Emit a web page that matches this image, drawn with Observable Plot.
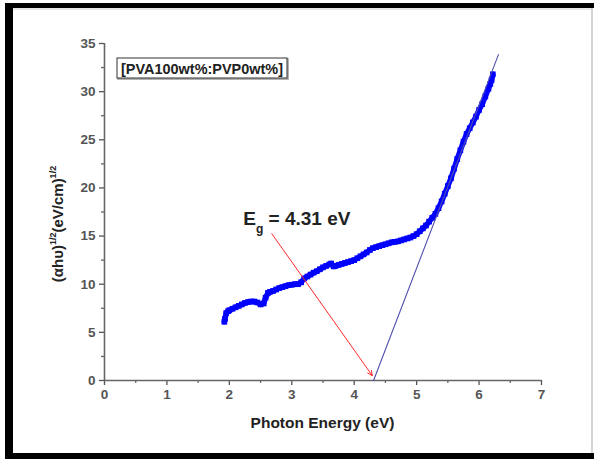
<!DOCTYPE html>
<html>
<head>
<meta charset="utf-8">
<script src="https://cdn.jsdelivr.net/npm/d3@7"></script>
<script src="https://cdn.jsdelivr.net/npm/@observablehq/plot@0.6"></script>
<style>
  html, body { margin: 0; padding: 0; background: #fff; }
  svg text { font-family: "Liberation Sans", Arial, sans-serif; }
</style>
</head>
<body>
<div id="chart"></div>
<script>
// Photon energy (eV)
const energy = [
  1.92, 1.93, 1.95, 1.98, 2.00, 2.05, 2.10, 2.15, 2.20, 2.25, 2.30, 2.35, 2.40, 2.45, 2.50, 2.55,
  2.58, 2.62, 2.65, 2.70, 2.75, 2.80, 2.85, 2.90, 2.95, 3.00, 3.05, 3.10, 3.15, 3.20, 3.25, 3.30,
  3.35, 3.40, 3.45, 3.50, 3.55, 3.60, 3.63, 3.67, 3.70, 3.75, 3.80, 3.85, 3.90, 3.95, 4.00, 4.05,
  4.10, 4.15, 4.20, 4.25, 4.30, 4.35, 4.40, 4.45, 4.50, 4.55, 4.60, 4.65, 4.70, 4.75, 4.80, 4.85,
  4.90, 4.95, 5.00, 5.05, 5.10, 5.15, 5.20, 5.25, 5.30, 5.35, 5.40, 5.45, 5.50, 5.55, 5.60, 5.65,
  5.70, 5.75, 5.80, 5.85, 5.90, 5.95, 6.00, 6.05, 6.10, 6.15, 6.18, 6.20, 6.22
];
// (alpha h nu)^1/2 (eV/cm)^1/2
const ahv = [
  6.1, 6.4, 7.0, 7.2, 7.3, 7.45, 7.6, 7.75, 7.9, 8.05, 8.15, 8.2, 8.2, 8.1, 7.9, 8.0,
  8.6, 9.1, 9.2, 9.3, 9.45, 9.6, 9.7, 9.8, 9.9, 9.95, 10.0, 10.0, 10.2, 10.6, 10.8, 11.0,
  11.2, 11.35, 11.55, 11.75, 11.9, 12.05, 12.15, 11.85, 11.9, 12.0, 12.1, 12.2, 12.3, 12.4, 12.5, 12.7,
  12.9, 13.1, 13.3, 13.55, 13.75, 13.85, 13.95, 14.05, 14.15, 14.25, 14.35, 14.4, 14.45, 14.55, 14.65, 14.75,
  14.85, 15.0, 15.2, 15.5, 15.8, 16.1, 16.5, 16.9, 17.3, 17.9, 18.6, 19.4, 20.2, 21.0, 22.0, 23.0,
  23.9, 24.8, 25.6, 26.2, 26.8, 27.4, 28.1, 28.7, 29.5, 30.3, 30.8, 31.2, 31.8
];
// Linear fit (Tauc extrapolation)
const fitX = [4.31, 6.31];
const fitY = [0, 33.85];
// Annotation arrow (data units)
const arrowX1 = 2.68, arrowY1 = 15.25, arrowX2 = 4.29, arrowY2 = 0.5;
const gapLabel = "4.31 eV";
const legendText = "[PVA100wt%:PVP0wt%]";
const xTicks = [0, 1, 2, 3, 4, 5, 6, 7];
const xMinor = [0.5, 1.5, 2.5, 3.5, 4.5, 5.5, 6.5];
const yTicks = [0, 5, 10, 15, 20, 25, 30, 35];
const yMinor = [2.5, 7.5, 12.5, 17.5, 22.5, 27.5, 32.5];

const pts = energy.map((e, i) => ({x: e, y: ahv[i]}));
const fit = fitX.map((x, i) => ({x, y: fitY[i]}));

const plot = Plot.plot({
  width: 594, height: 462,
  marginLeft: 104, marginRight: 53, marginTop: 43, marginBottom: 82,
  x: {domain: [0, 7]},
  y: {domain: [0, 35]},
  style: {background: "white", fontFamily: "Liberation Sans, Arial, sans-serif"},
  marks: [
    Plot.axisX(xTicks, {tickSize: 5, tickPadding: 4, fontSize: 13.5, fontWeight: "bold", color: "#555", strokeWidth: 1.3, label: null}),
    Plot.axisX(xMinor, {tickSize: 3, tickFormat: () => "", color: "#666", strokeWidth: 1.3, label: null}),
    Plot.axisY(yTicks, {tickSize: 5, tickPadding: 4, fontSize: 13.5, fontWeight: "bold", color: "#555", strokeWidth: 1.3, label: null}),
    Plot.axisY(yMinor, {tickSize: 3, tickFormat: () => "", color: "#666", strokeWidth: 1.3, label: null}),
    Plot.ruleX([0], {stroke: "#666", strokeWidth: 1.6}),
    Plot.ruleY([0], {stroke: "#666", strokeWidth: 1.6}),
    Plot.line(pts, {x: "x", y: "y", stroke: "#0a0aff", strokeWidth: 5.5}),
    Plot.dot(pts, {x: "x", y: "y", symbol: "square", r: 3.2, fill: "#0000ff", stroke: "none"}),
    Plot.line(fit, {x: "x", y: "y", stroke: "#4f4fb0", strokeWidth: 1.1}),
    Plot.arrow([{}], {x1: () => arrowX1, y1: () => arrowY1, x2: () => arrowX2, y2: () => arrowY2,
      stroke: "#ff2a2a", strokeWidth: 1, headLength: 8, headAngle: 50})
  ]
});

const svg = d3.select(plot);
const sx = plot.scale("x"), sy = plot.scale("y");

// Outer frame
svg.append("rect").attr("x", 5).attr("y", 3).attr("width", 589).attr("height", 5).attr("fill", "#000");
svg.append("rect").attr("x", 5).attr("y", 3).attr("width", 8).attr("height", 456).attr("fill", "#000");
svg.append("rect").attr("x", 5).attr("y", 453).attr("width", 589).attr("height", 6).attr("fill", "#000");
svg.append("line").attr("x1", 592).attr("x2", 592).attr("y1", 8).attr("y2", 453).attr("stroke", "#aaa").attr("stroke-width", 1);
svg.append("line").attr("x1", 13).attr("x2", 592).attr("y1", 9).attr("y2", 9).attr("stroke", "#ccc").attr("stroke-width", 1);

// Legend box
svg.append("rect").attr("x", 117).attr("y", 58).attr("width", 170).attr("height", 20)
  .attr("fill", "none").attr("stroke", "#999").attr("stroke-width", 1.5).attr("transform", "translate(1,1)");
svg.append("rect").attr("x", 117).attr("y", 58).attr("width", 170).attr("height", 20)
  .attr("fill", "#fff").attr("stroke", "#333").attr("stroke-width", 1);
svg.append("text").attr("x", 202).attr("y", 73.5).attr("text-anchor", "middle")
  .attr("font-size", 14.5).attr("font-weight", "bold").attr("fill", "#222")
  .attr("textLength", 162).attr("lengthAdjust", "spacingAndGlyphs").text(legendText);

// Eg label
const eg = svg.append("text").attr("x", sx.apply(2.23)).attr("y", sy.apply(16.1))
  .attr("text-anchor", "start")
  .attr("font-size", 19).attr("font-weight", "bold").attr("fill", "#222");
eg.append("tspan").text("E");
eg.append("tspan").attr("font-size", 12).attr("dy", 8).text("g");
eg.append("tspan").attr("dy", -8).text(" = " + gapLabel);

// Axis titles
svg.append("text").attr("x", sx.apply(3.5)).attr("y", 428).attr("text-anchor", "middle")
  .attr("font-size", 15.5).attr("font-weight", "bold").attr("fill", "#222").text("Photon Energy (eV)");
const yt = svg.append("text").attr("transform", `translate(63,${sy.apply(16.2)}) rotate(-90)`)
  .attr("text-anchor", "middle").attr("font-size", 15).attr("font-weight", "bold").attr("fill", "#222");
yt.append("tspan").text("(αhυ)");
yt.append("tspan").attr("font-size", 9).attr("dy", -7).text("1/2");
yt.append("tspan").attr("dy", 7).text("(eV/cm)");
yt.append("tspan").attr("font-size", 9).attr("dy", -7).text("1/2");

document.getElementById("chart").appendChild(plot);
</script>
</body>
</html>
